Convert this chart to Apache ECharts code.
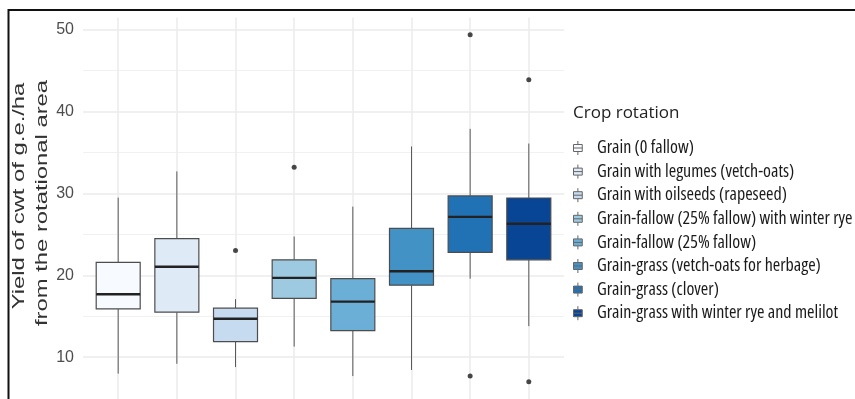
<!DOCTYPE html>
<html>
<head>
<meta charset="utf-8">
<script src="https://cdn.jsdelivr.net/npm/echarts@6/dist/echarts.min.js"></script>
<style>html,body{margin:0;padding:0;background:#fff;}#chart{width:855px;height:399px;}</style>
</head>
<body>
<div id="chart"></div>
<script>
const categories = [
  'Grain (0 fallow)',
  'Grain with legumes (vetch-oats)',
  'Grain with oilseeds (rapeseed)',
  'Grain-fallow (25% fallow) with winter rye',
  'Grain-fallow (25% fallow)',
  'Grain-grass (vetch-oats for herbage)',
  'Grain-grass (clover)',
  'Grain-grass with winter rye and melilot'
];
const whiskerLow  = [8.0, 9.2, 8.8, 11.3, 7.7, 8.45, 19.6, 13.8];
const q1          = [15.9, 15.5, 11.9, 17.2, 13.25, 18.8, 22.8, 21.9];
const medians     = [17.7, 21.05, 14.7, 19.7, 16.8, 20.5, 27.15, 26.3];
const q3          = [21.6, 24.5, 16.0, 21.9, 19.6, 25.75, 29.7, 29.45];
const whiskerHigh = [29.5, 32.7, 17.1, 24.75, 28.4, 35.75, 37.9, 36.1];
const outlierCat  = [2, 3, 6, 6, 7, 7];
const outlierVal  = [23.05, 33.2, 49.4, 7.7, 43.9, 7.0];
const colors = ['#f7fbff', '#deebf7', '#c6dbef', '#9ecae1', '#6baed6', '#4292c6', '#2171b5', '#084594'];
const yTicks = [10, 20, 30, 40, 50];
const yMinorTicks = [15, 25, 35, 45];
const xPositions = [0, 1, 2, 3, 4, 5, 6, 7];

const chart = echarts.init(document.getElementById('chart'), null, {renderer: 'canvas'});

function renderBox(params, api) {
  const x = api.value(0);
  const lo = api.coord([x, api.value(1)]);
  const b1 = api.coord([x, api.value(2)]);
  const md = api.coord([x, api.value(3)]);
  const b3 = api.coord([x, api.value(4)]);
  const hi = api.coord([x, api.value(5)]);
  const hw = api.size([0.75, 0])[0] / 2;
  const color = api.visual('color');
  return {
    type: 'group',
    children: [
      {type: 'line', shape: {x1: lo[0], y1: lo[1], x2: b1[0], y2: b1[1]}, style: {stroke: '#595959', lineWidth: 1}},
      {type: 'line', shape: {x1: b3[0], y1: b3[1], x2: hi[0], y2: hi[1]}, style: {stroke: '#595959', lineWidth: 1}},
      {type: 'rect', shape: {x: md[0] - hw, y: b3[1], width: hw * 2, height: b1[1] - b3[1]}, style: {fill: color, stroke: '#4d4d4d', lineWidth: 1.2}},
      {type: 'line', shape: {x1: md[0] - hw, y1: md[1], x2: md[0] + hw, y2: md[1]}, style: {stroke: '#222222', lineWidth: 2.4}}
    ]
  };
}

const boxSeries = categories.map((name, i) => ({
  name: name,
  type: 'custom',
  renderItem: renderBox,
  itemStyle: {color: colors[i], borderColor: '#4d4d4d', borderWidth: 1},
  encode: {x: 0, y: [1, 2, 3, 4, 5]},
  data: [[xPositions[i], whiskerLow[i], q1[i], medians[i], q3[i], whiskerHigh[i]]],
  z: 3
}));

const option = {
  animation: false,
  backgroundColor: '#ffffff',
  title: {
    text: 'Crop rotation',
    left: 568,
    top: 100,
    textStyle: {fontFamily: "'Open Sans', sans-serif", fontSize: 17, fontWeight: 'normal', color: '#222222'}
  },
  legend: {
    data: categories,
    orient: 'vertical',
    left: 573,
    top: 139,
    padding: 0,
    itemWidth: 10,
    itemHeight: 14,
    itemGap: 5.6,
    icon: 'path://M5,0V4M0,4H10V12H0ZM0,8H10M5,12V16',
    itemStyle: {borderColor: '#666666', borderWidth: 1},
    textStyle: {fontStyle: 'condensed', fontFamily: "'Open Sans', 'Noto Sans', sans-serif", fontSize: 18, color: '#1a1a1a', padding: [0, 0, 0, 9]},
    selectedMode: false
  },
  grid: {left: 83, right: 291, top: 17.5, bottom: -1.4, containLabel: false},
  xAxis: {
    type: 'value',
    min: -0.6,
    max: 7.6,
    axisLine: {show: false},
    axisLabel: {show: false},
    axisTick: {show: false, customValues: xPositions},
    splitLine: {show: true, lineStyle: {color: '#ebebeb', width: 1.5}}
  },
  yAxis: [
    {
      type: 'value',
      min: 4.9,
      max: 51.5,
      axisLine: {show: false},
      axisTick: {show: false, customValues: yTicks},
      axisLabel: {customValues: yTicks, fontFamily: "'Liberation Sans', Arial, sans-serif", fontSize: 16, color: '#4d4d4d', margin: 9, padding: [4, 0, 0, 0]},
      splitLine: {show: true, lineStyle: {color: '#ebebeb', width: 1.5}}
    },
    {
      type: 'value',
      min: 4.9,
      max: 51.5,
      position: 'left',
      axisLine: {show: false},
      axisTick: {show: false, customValues: yMinorTicks},
      axisLabel: {show: false},
      splitLine: {show: true, lineStyle: {color: '#f1f1f1', width: 1}}
    }
  ],
  graphic: [
    {type: 'rect', shape: {x: 8.5, y: 10, width: 900, height: 500}, style: {fill: null, stroke: '#111111', lineWidth: 2}, z: 100, silent: true},
    {type: 'text', x: 19.5, y: 196, rotation: Math.PI / 2, scaleX: 1.4, style: {text: 'Yield of cwt of g.e./ha', fontSize: 17, fontFamily: "'Liberation Sans', Arial, sans-serif", fill: '#333333', align: 'center', verticalAlign: 'middle', textAlign: 'center', textVerticalAlign: 'middle'}},
    {type: 'text', x: 42, y: 203, rotation: Math.PI / 2, scaleX: 1.4, style: {text: 'from the rotational area', fontSize: 17, fontFamily: "'Liberation Sans', Arial, sans-serif", fill: '#333333', align: 'center', verticalAlign: 'middle', textAlign: 'center', textVerticalAlign: 'middle'}}
  ],
  series: boxSeries.concat([{
    type: 'scatter',
    symbol: 'circle',
    symbolSize: 5,
    itemStyle: {color: '#1a1a1a'},
    data: outlierCat.map((c, i) => [xPositions[c], outlierVal[i]]),
    z: 4
  }])
};
chart.setOption(option);
</script>
</body>
</html>
